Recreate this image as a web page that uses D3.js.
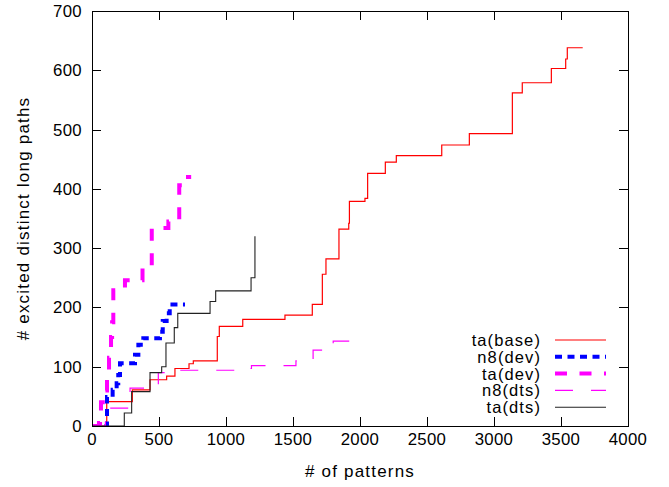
<!DOCTYPE html>
<html>
<head>
<meta charset="utf-8">
<script src="https://cdn.jsdelivr.net/npm/d3@7/dist/d3.min.js"></script>
<style>
  html, body { margin: 0; padding: 0; background: #fff; }
  svg { display: block; }
  text { font-family: "Liberation Sans", Arial, sans-serif; fill: #000; }
</style>
</head>
<body>
<svg id="chart" width="669" height="487"></svg>
<script>
// ---- data ----
const xTicks = [0, 500, 1000, 1500, 2000, 2500, 3000, 3500, 4000];
const yTicks = [0, 100, 200, 300, 400, 500, 600, 700];

const taBase = [[0,0],[110,41],[301,61],[433,78],[557,84],[619,97],[724,105],[756,110],[935,151],[950,168],[1125,180],[1440,187],[1644,205],[1719,256],[1746,282],[1843,332],[1916,342],[1921,379],[2037,384],[2057,426],[2189,445],[2271,456],[2610,474],[2816,493],[3137,562],[3211,579],[3428,603],[3535,619],[3547,638],[3662,638]];
const n8Dev = [[0,0],[112,49],[154,61],[184,72],[196,86],[209,106],[321,120],[346,137],[383,148],[507,159],[528,177],[557,190],[580,205],[694,205]];
const taDev = [[0,0],[52,5],[60,20],[67,40],[100,60],[112,90],[127,115],[142,150],[150,175],[159,229],[246,246],[377,266],[446,334],[570,345],[651,406],[685,420],[740,420]];
const n8Dts = [[0,0],[100,30],[284,64],[495,90],[620,94],[1117,97],[1190,102],[1522,110],[1650,128],[1763,138],[1800,143],[1925,143]];
const taDts = [[0,0],[241,22],[296,58],[433,90],[520,100],[552,140],[614,166],[640,190],[881,210],[923,228],[1187,250],[1216,320]];

const seriesNames = ["ta(base)", "n8(dev)", "ta(dev)", "n8(dts)", "ta(dts)"];
const seriesData = [taBase, n8Dev, taDev, n8Dts, taDts];

// ---- styles ----
const styles = [
  { color: "#ff0000", width: 1.2, dash: null },
  { color: "#0000ff", width: 4, dash: "7,5.5" },
  { color: "#ff00ff", width: 4, dash: "12,12.5" },
  { color: "#ff00ff", width: 1.2, dash: "18,18" },
  { color: "#222222", width: 1.1, dash: null }
];

const svg = d3.select("#chart");
const M = { left: 92, top: 11, right: 628, bottom: 426 };

const x = d3.scaleLinear().domain([0, 4000]).range([M.left, M.right]);
const y = d3.scaleLinear().domain([0, 700]).range([M.bottom, M.top]);

const tickLen = 9;
const g = svg.append("g");

// frame ticks (inward, mirrored)
const ax = g.append("g").attr("stroke", "#000").attr("stroke-width", 1);
xTicks.forEach(t => {
  const px = Math.round(x(t)) + 0.5;
  ax.append("line").attr("x1", px).attr("x2", px).attr("y1", M.bottom).attr("y2", M.bottom - tickLen);
  ax.append("line").attr("x1", px).attr("x2", px).attr("y1", M.top).attr("y2", M.top + tickLen);
});
yTicks.forEach(t => {
  const py = Math.round(y(t)) + 0.5;
  ax.append("line").attr("x1", M.left).attr("x2", M.left + tickLen).attr("y1", py).attr("y2", py);
  ax.append("line").attr("x1", M.right).attr("x2", M.right - tickLen).attr("y1", py).attr("y2", py);
});

// tick labels
const fs = 17;
xTicks.forEach(t => {
  g.append("text").attr("x", x(t)).attr("y", 445)
    .attr("text-anchor", "middle").attr("font-size", 16.8).attr("letter-spacing", 0.3).text(t);
});
yTicks.forEach(t => {
  g.append("text").attr("x", 82).attr("y", y(t) + 6)
    .attr("text-anchor", "end").attr("font-size", 16.8).attr("letter-spacing", 0.3).text(t);
});

// axis titles
g.append("text").attr("x", (M.left + M.right) / 2).attr("y", 477)
  .attr("text-anchor", "middle").attr("font-size", fs).attr("letter-spacing", 1.2)
  .text("# of patterns");
g.append("text").attr("transform", `translate(29,${(M.top + M.bottom) / 2}) rotate(-90)`)
  .attr("text-anchor", "middle").attr("font-size", fs).attr("letter-spacing", 1.2)
  .text("# excited distinct long paths");

// series
const line = d3.line().x(d => x(d[0])).y(d => y(d[1])).curve(d3.curveStepAfter);
svg.append("clipPath").attr("id", "clip").append("rect")
  .attr("x", M.left).attr("y", M.top).attr("width", M.right - M.left).attr("height", M.bottom - M.top);

const plot = svg.append("g").attr("clip-path", "url(#clip)");
seriesData.forEach((data, i) => {
  const s = styles[i];
  plot.append("path").datum(data)
    .attr("d", line)
    .attr("fill", "none")
    .attr("stroke", s.color)
    .attr("stroke-width", s.width)
    .attr("stroke-dasharray", s.dash)
    .attr("stroke-linejoin", "miter");
});

// legend
const legend = svg.append("g");
const legY0 = 340, legDy = 16.8;
seriesNames.forEach((name, i) => {
  const s = styles[i];
  const ly = legY0 + i * legDy;
  legend.append("text").attr("x", 541).attr("y", ly + 6)
    .attr("text-anchor", "end").attr("font-size", 16.5).attr("letter-spacing", 1.1)
    .text(name);
  legend.append("line").attr("x1", 555).attr("x2", 606).attr("y1", ly).attr("y2", ly)
    .attr("stroke", s.color).attr("stroke-width", s.width)
    .attr("stroke-dasharray", s.dash);
});

// frame
svg.append("rect").attr("x", M.left + 0.5).attr("y", M.top + 0.5)
  .attr("width", M.right - M.left).attr("height", M.bottom - M.top)
  .attr("fill", "none").attr("stroke", "#000").attr("stroke-width", 1);
</script>
</body>
</html>
